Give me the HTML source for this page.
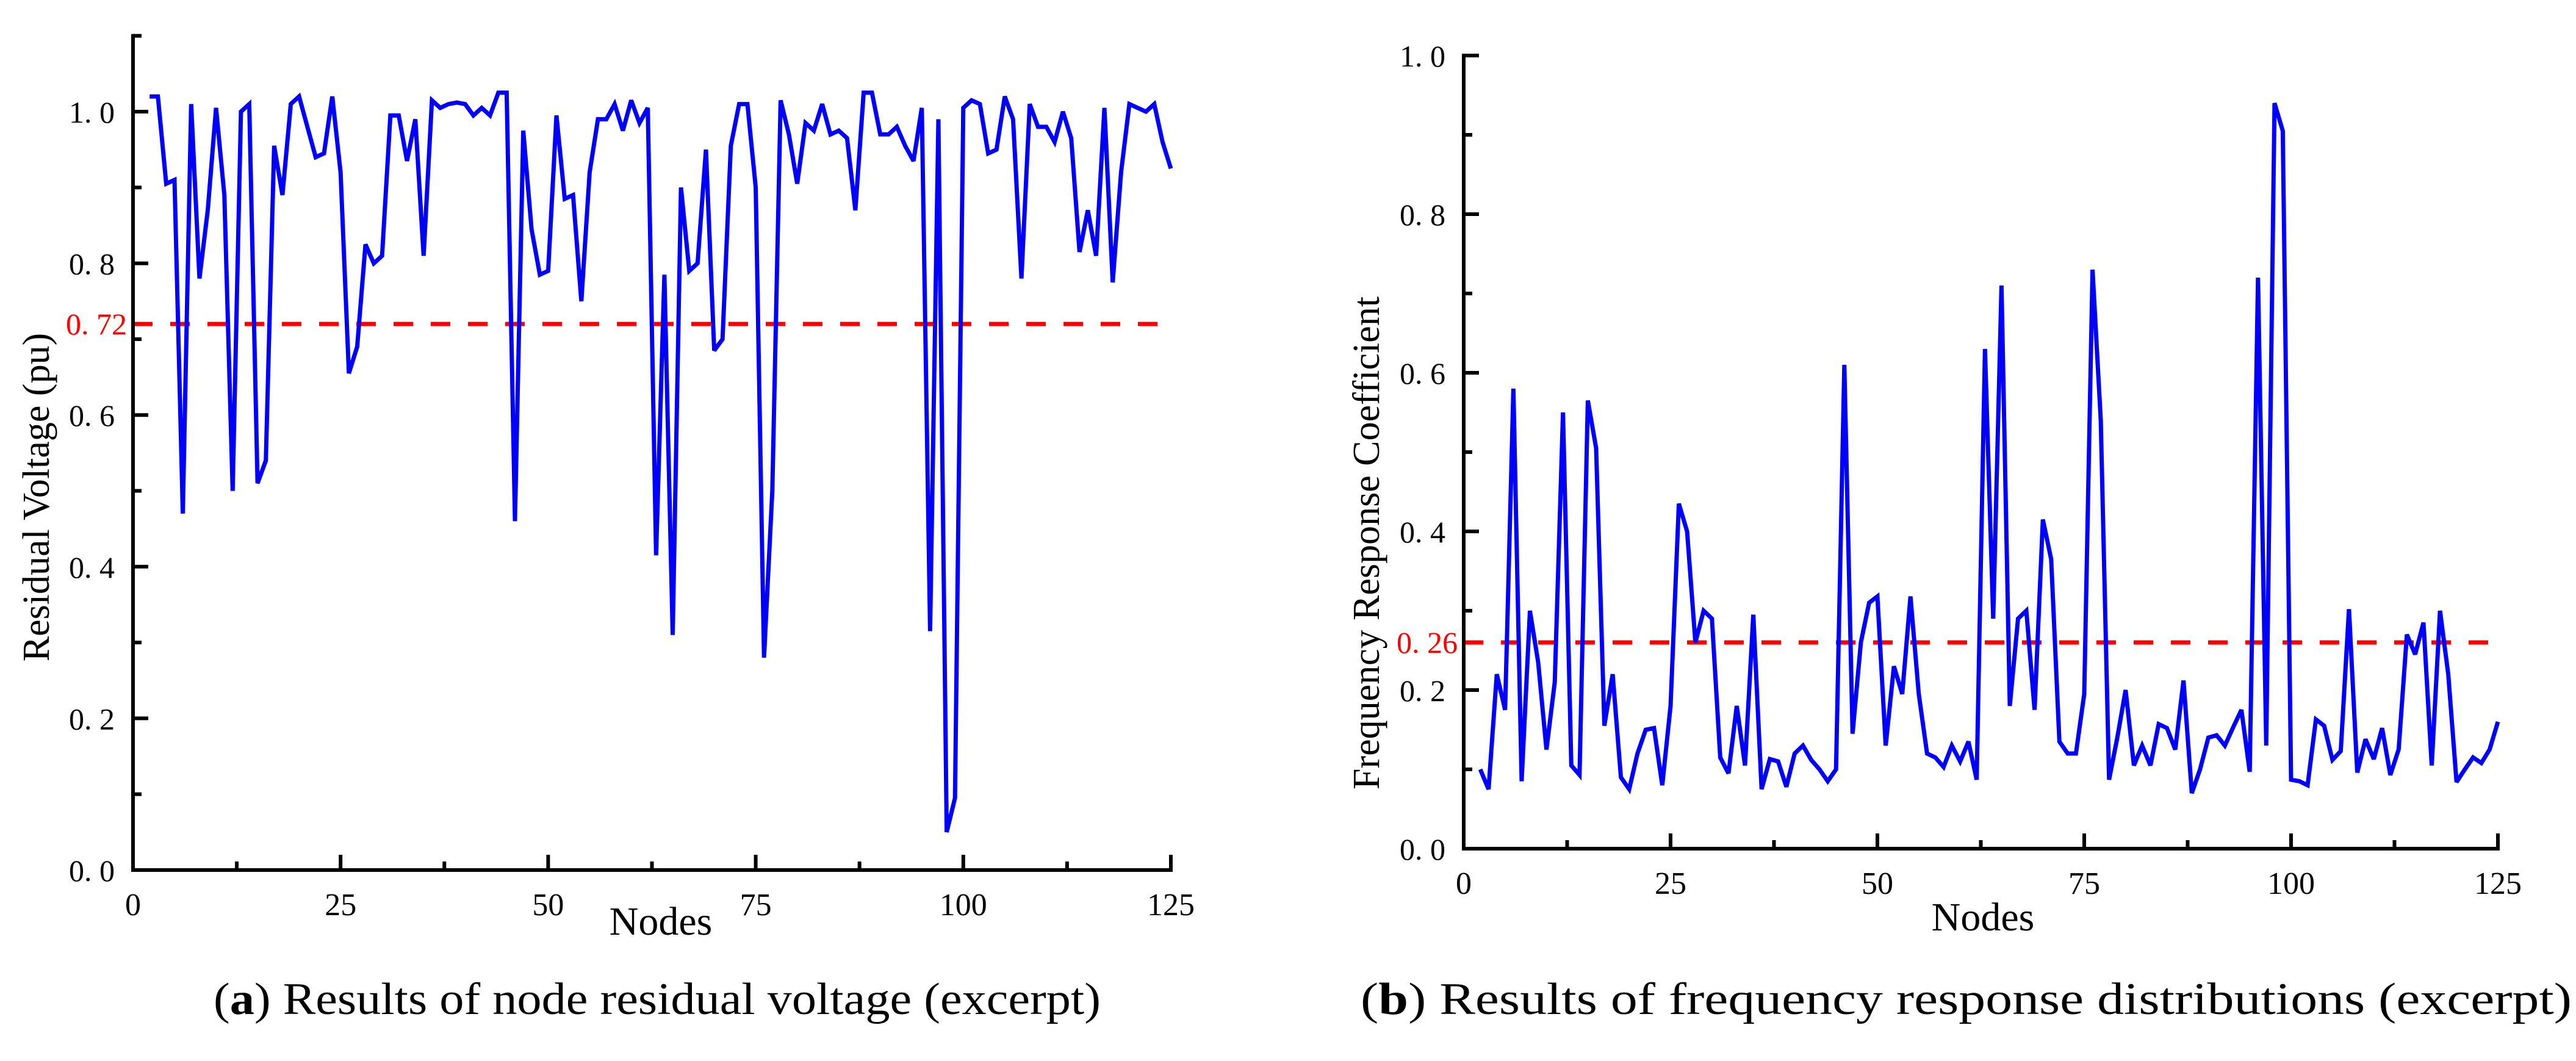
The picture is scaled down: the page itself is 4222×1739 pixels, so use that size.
<!DOCTYPE html>
<html><head><meta charset="utf-8"><style>
html,body{margin:0;padding:0;background:#fff;}
svg{display:block;}
text{font-family:"Liberation Serif","Times New Roman",serif;}
</style></head><body>
<svg id="fig" xmlns="http://www.w3.org/2000/svg" width="4222" height="1739" viewBox="0 0 4222 1739">
<text font-family="Liberation Serif, serif" x="350" y="1662" font-size="74" textLength="1454" lengthAdjust="spacingAndGlyphs">(<tspan font-weight="bold">a</tspan>) Results of node residual voltage (excerpt)</text>
<text font-family="Liberation Serif, serif" x="2230" y="1662" font-size="74" textLength="1985" lengthAdjust="spacingAndGlyphs">(<tspan font-weight="bold">b</tspan>) Results of frequency response distributions (excerpt)</text>
</svg>
<script>
const voltageNodes = [];
for (let n = 2; n <= 125; n++) voltageNodes.push(n);
const voltageValues = [1.02,1.02,0.905,0.91,0.47,1.01,0.78,0.87,1.005,0.89,0.50,1.0,1.01,0.51,0.54,0.955,0.89,1.01,1.02,0.98,0.94,0.945,1.02,0.92,0.655,0.69,0.825,0.80,0.81,0.995,0.995,0.935,0.99,0.81,1.015,1.005,1.01,1.012,1.01,0.995,1.005,0.995,1.025,1.025,0.46,0.975,0.845,0.785,0.79,0.995,0.885,0.89,0.75,0.92,0.99,0.99,1.01,0.975,1.015,0.985,1.005,0.415,0.785,0.31,0.90,0.79,0.80,0.95,0.685,0.70,0.955,1.01,1.01,0.90,0.28,0.50,1.015,0.97,0.905,0.985,0.975,1.01,0.97,0.975,0.965,0.87,1.025,1.025,0.97,0.97,0.98,0.955,0.935,1.005,0.315,0.99,0.05,0.095,1.005,1.015,1.01,0.945,0.95,1.02,0.99,0.78,1.01,0.98,0.98,0.96,1.0,0.965,0.815,0.87,0.81,1.005,0.775,0.92,1.01,1.005,1.0,1.01,0.96,0.925];
const freqNodes = voltageNodes.slice();
const freqValues = [0.10,0.075,0.22,0.175,0.58,0.085,0.30,0.235,0.125,0.21,0.55,0.105,0.093,0.565,0.505,0.155,0.22,0.09,0.075,0.12,0.15,0.152,0.08,0.18,0.435,0.40,0.26,0.30,0.29,0.115,0.095,0.18,0.105,0.295,0.075,0.113,0.11,0.078,0.12,0.13,0.112,0.10,0.085,0.10,0.61,0.145,0.26,0.31,0.318,0.13,0.23,0.195,0.318,0.195,0.12,0.115,0.103,0.13,0.11,0.135,0.087,0.63,0.29,0.71,0.18,0.29,0.30,0.175,0.415,0.365,0.135,0.12,0.12,0.195,0.73,0.54,0.087,0.14,0.20,0.105,0.13,0.105,0.157,0.152,0.125,0.212,0.07,0.10,0.14,0.143,0.13,0.153,0.175,0.097,0.72,0.13,0.94,0.905,0.087,0.085,0.08,0.163,0.155,0.112,0.123,0.302,0.096,0.138,0.113,0.152,0.093,0.125,0.27,0.245,0.285,0.105,0.30,0.22,0.084,0.1,0.115,0.108,0.125,0.16];
const xTickLabels = ["0","25","50","75","100","125"];
const xTickValues = [0,25,50,75,100,125];
const voltageYTicks = [0,0.2,0.4,0.6,0.8,1.0];
const voltageYLabels = ["0. 0","0. 2","0. 4","0. 6","0. 8","1. 0"];
const freqYTicks = [0,0.2,0.4,0.6,0.8,1.0];
const freqYLabels = ["0. 0","0. 2","0. 4","0. 6","0. 8","1. 0"];
const voltageThreshold = [0.72];
const voltageThresholdLabel = ["0. 72"];
const freqThreshold = [0.26];
const freqThresholdLabel = ["0. 26"];

const NS = "http://www.w3.org/2000/svg";
const svg = document.getElementById('fig');
function mk(tag, attrs, parent) {
  const e = document.createElementNS(NS, tag);
  for (const k in attrs) e.setAttribute(k, attrs[k]);
  if (tag === 'text') e.setAttribute('font-family', 'Liberation Serif, serif');
  (parent || svg).appendChild(e);
  return e;
}
function drawPanel(cfg) {
  const g = mk('g', {});
  
  
  const sx = v => cfg.x0 + (v - 0) / 125 * (cfg.x1 - cfg.x0);
  const sy = v => cfg.y0 - v * (cfg.y0 - cfg.y1);
  const th = mk('line', {x1: cfg.x0, x2: cfg.dashEnd, y1: sy(cfg.thr[0]), y2: sy(cfg.thr[0]), stroke: '#ff0000', 'stroke-width': 7, 'stroke-dasharray': '32 29'}, g);
  
  
  const tl = mk('text', {x: cfg.x0 - 10, y: sy(cfg.thr[0]) + 17, 'font-size': 50, fill: '#ff0000', 'text-anchor': 'end'}, g);
  tl.textContent = cfg.thrLabel[0];
  
  
  let d = '';
  cfg.nodes.forEach((n, i) => { d += (i ? 'L' : 'M') + sx(n).toFixed(1) + ' ' + sy(cfg.vals[i]).toFixed(1); });
  const p = mk('path', {d: d, fill: 'none', stroke: '#0000ff', 'stroke-width': 7, 'stroke-linejoin': 'miter', 'stroke-miterlimit': 3}, g);
  
  
  const ax = mk('path', {d: `M${cfg.x0} ${sy(cfg.yTop)} L${cfg.x0} ${cfg.y0} L${cfg.x1} ${cfg.y0}`, fill: 'none', stroke: '#000', 'stroke-width': 6, 'stroke-linecap': 'square'}, g);
  
  
  for (let v = 0; v <= cfg.yTop + 1e-6; v += 0.1) {
    const major = Math.round(v * 10) % 2 === 0;
    const t = mk('line', {x1: cfg.x0, x2: cfg.x0 + (major ? 25 : 14), y1: sy(v), y2: sy(v), stroke: '#000', 'stroke-width': 6}, g);
    
    
  }
  cfg.yTicks.forEach((v, i) => {
    const t = mk('text', {x: cfg.x0 - 30, y: sy(v) + 18, 'font-size': 50, 'text-anchor': 'end'}, g);
    t.textContent = cfg.yLabels[i];
    
    
  });
  for (let v = 12.5; v <= 125; v += 12.5) {
    const major = Math.abs(v % 25) < 1e-6;
    const t = mk('line', {x1: sx(v), x2: sx(v), y1: cfg.y0, y2: cfg.y0 - (major ? 25 : 14), stroke: '#000', 'stroke-width': 6}, g);
    
    
  }
  xTickValues.forEach((v, i) => {
    const t = mk('text', {x: sx(v), y: cfg.y0 + 74, 'font-size': 52, 'text-anchor': 'middle'}, g);
    t.textContent = xTickLabels[i];
    
    
  });
  const xt = mk('text', {x: cfg.xTitleX, y: cfg.xTitleY, 'font-size': 66, 'text-anchor': 'middle'}, g);
  xt.textContent = 'Nodes';
  
  
  const yt = mk('text', {x: 0, y: 0, 'font-size': 62, 'text-anchor': 'middle', transform: `translate(${cfg.yTitleX},${cfg.yTitleY}) rotate(-90)`}, g);
  yt.textContent = cfg.yTitle;
  
  
}
drawPanel({name: 'residual-voltage-chart', x0: 218, x1: 1919, y0: 1426, y1: 183, yTop: 1.1, dashEnd: 1905,
  nodes: voltageNodes, vals: voltageValues, yTicks: voltageYTicks, yLabels: voltageYLabels,
  thr: voltageThreshold, thrLabel: voltageThresholdLabel, xTitleX: 1083, xTitleY: 1532,
  yTitle: 'Residual Voltage (pu)', yTitleX: 80, yTitleY: 815});
drawPanel({name: 'frequency-response-chart', x0: 2399, x1: 4094, y0: 1391, y1: 91, yTop: 1.0, dashEnd: 4080,
  nodes: freqNodes, vals: freqValues, yTicks: freqYTicks, yLabels: freqYLabels,
  thr: freqThreshold, thrLabel: freqThresholdLabel, xTitleX: 3250, xTitleY: 1525,
  yTitle: 'Frequency Response Coefficient', yTitleX: 2260, yTitleY: 890});
</script>
</body></html>
